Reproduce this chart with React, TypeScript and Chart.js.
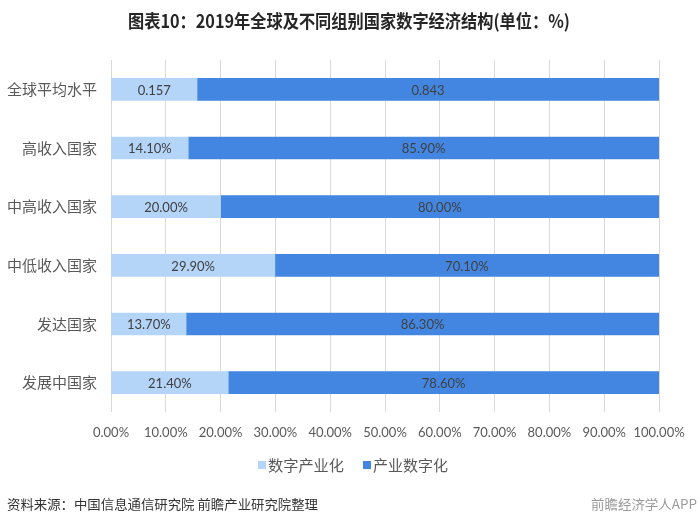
import React, { useEffect, useRef } from "react";
import { Chart, registerables } from "chart.js";

Chart.register(...registerables);

const categories = ["全球平均水平", "高收入国家", "中高收入国家", "中低收入国家", "发达国家", "发展中国家"];
const digitalIndustry = [15.7, 14.1, 20.0, 29.9, 13.7, 21.4];
const industryDigital = [84.3, 85.9, 80.0, 70.1, 86.3, 78.6];
const digitalIndustryText = ["0.157", "14.10%", "20.00%", "29.90%", "13.70%", "21.40%"];
const industryDigitalText = ["0.843", "85.90%", "80.00%", "70.10%", "86.30%", "78.60%"];
const seriesNames = ["数字产业化", "产业数字化"];
const titleText = "图表10：2019年全球及不同组别国家数字经济结构(单位：%)";
const sourceText = "资料来源：中国信息通信研究院 前瞻产业研究院整理";
const brandText = "前瞻经济学人APP";

const LIGHT = "#b4d4f8";
const DARK = "#4386e1";

function drawScaled(ctx: CanvasRenderingContext2D, text: string, x: number, y: number, targetW: number, align: "left" | "center" | "right") {
  const w = ctx.measureText(text).width;
  const s = targetW / w;
  ctx.save();
  ctx.translate(x, y);
  ctx.scale(s, 1);
  ctx.textAlign = align;
  ctx.fillText(text, 0, 0);
  ctx.restore();
}

const decorPlugin = {
  id: "decor",
  afterDatasetsDraw(chart: any) {
    const ctx = chart.ctx as CanvasRenderingContext2D;
    const texts = [digitalIndustryText, industryDigitalText];
    ctx.save();
    ctx.font = '13px Lato';
    ctx.fillStyle = "#404040";
    ctx.textAlign = "center";
    ctx.textBaseline = "middle";
    chart.data.datasets.forEach((_: any, di: number) => {
      const meta = chart.getDatasetMeta(di);
      meta.data.forEach((el: any, i: number) => {
        const cx = (el.x + el.base) / 2;
        ctx.fillText(texts[di][i], cx, el.y + 1);
      });
    });
    ctx.restore();
  },
  afterDraw(chart: any) {
    const ctx = chart.ctx as CanvasRenderingContext2D;
    ctx.save();
    // title
    ctx.font = 'bold 18px "Noto Sans CJK SC"';
    ctx.fillStyle = "#262626";
    ctx.textBaseline = "middle";
    drawScaled(ctx, titleText, 349, 21, 442, "center");

    // legend
    ctx.font = '15px "Noto Sans CJK SC"';
    ctx.textBaseline = "middle";
    const ly = 465;
    ctx.fillStyle = LIGHT;
    ctx.fillRect(258, ly - 4, 8, 8);
    ctx.fillStyle = "#595959";
    drawScaled(ctx, seriesNames[0], 268, ly, 76, "left");
    ctx.fillStyle = DARK;
    ctx.fillRect(363, ly - 4, 8, 8);
    ctx.fillStyle = "#595959";
    drawScaled(ctx, seriesNames[1], 373, ly, 75, "left");

    // source
    ctx.font = '13px "Noto Sans CJK SC"';
    ctx.fillStyle = "#333333";
    drawScaled(ctx, sourceText, 7, 504, 311, "left");

    // brand
    ctx.font = '13px "Noto Sans CJK SC"';
    ctx.fillStyle = "#9a9a9a";
    drawScaled(ctx, brandText, 697, 504, 106, "right");
    ctx.restore();
  },
};

export default function App() {
  const ref = useRef<HTMLCanvasElement | null>(null);
  useEffect(() => {
    if (!ref.current) return;
    const chart = new Chart(ref.current, {
      type: "bar",
      data: {
        labels: categories,
        datasets: [
          { label: seriesNames[0], data: digitalIndustry, backgroundColor: LIGHT, barThickness: 22, borderWidth: 0 },
          { label: seriesNames[1], data: industryDigital, backgroundColor: DARK, barThickness: 22, borderWidth: 0 },
        ],
      },
      options: {
        indexAxis: "y",
        responsive: false,
        animation: false,
        devicePixelRatio: 1,
        layout: { padding: { top: 60, right: 41, bottom: 82, left: 0 } },
        plugins: { legend: { display: false }, title: { display: false }, tooltip: { enabled: false } },
        scales: {
          x: {
            stacked: true,
            min: 0,
            max: 100,
            ticks: {
              stepSize: 10,
              callback: (v: any) => Number(v).toFixed(2) + "%",
              font: { family: "Lato", size: 13 },
              color: "#595959",
              padding: 13,
              maxRotation: 0,
              autoSkip: false,
            },
            grid: { color: "#d9d9d9", drawTicks: false, lineWidth: 1 },
            border: { display: false },
            afterFit: (scale: any) => { scale.height = 30; },
          },
          y: {
            stacked: true,
            ticks: {
              font: { family: "Noto Sans CJK SC", size: 15 },
              color: "#595959",
              padding: 6,
            },
            grid: { display: false },
            border: { display: false },
            afterFit: (scale: any) => { scale.width = 111; },
          },
        },
      },
      plugins: [decorPlugin],
    });
    return () => chart.destroy();
  }, []);
  return (
    <div style={{ position: "absolute", left: 0, top: 0, width: 700, height: 524, background: "#fff" }}>
      <canvas ref={ref} width={700} height={524} />
    </div>
  );
}
